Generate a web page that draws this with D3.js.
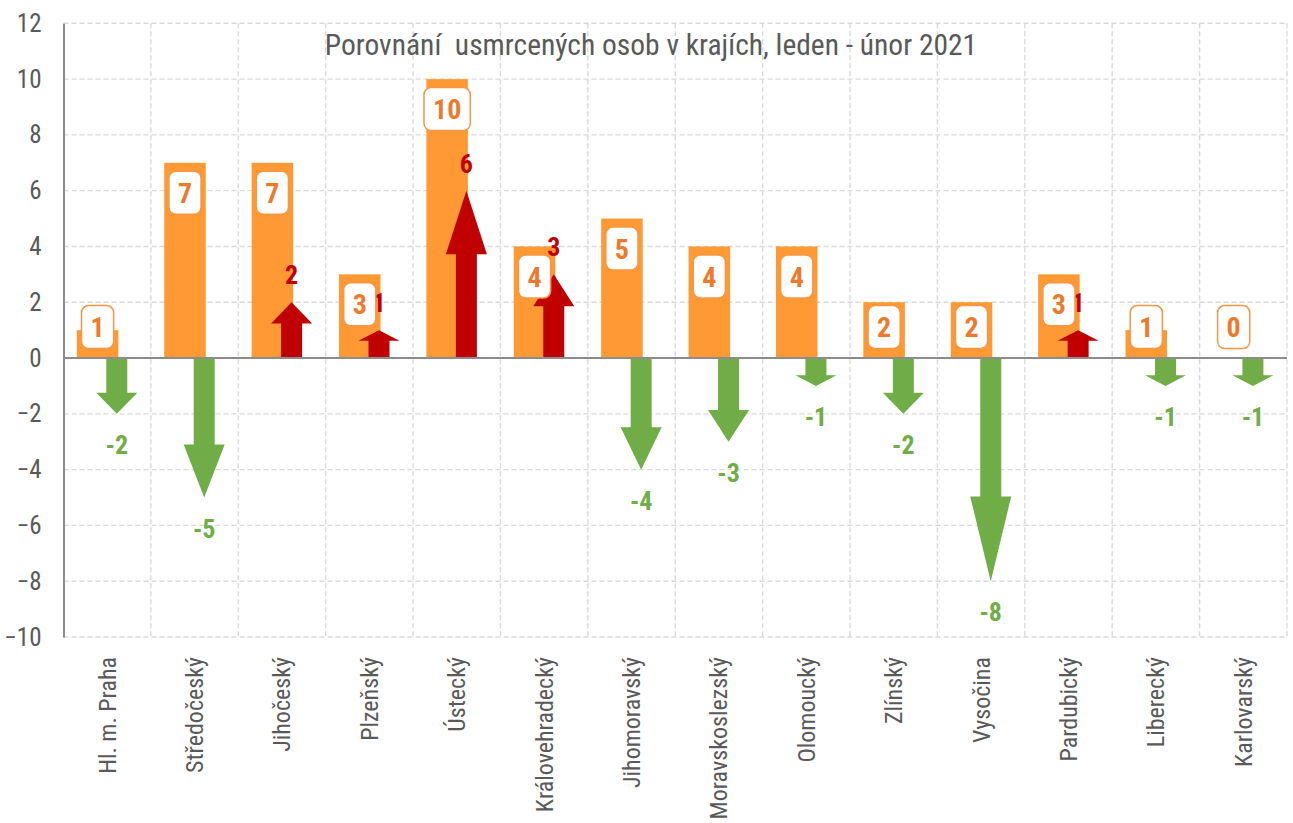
<!DOCTYPE html>
<html>
<head>
<meta charset="utf-8">
<script src="https://cdn.jsdelivr.net/npm/d3@7"></script>
<style>
  html, body { margin: 0; padding: 0; background: #fff; }
  svg { display: block; }
  .nf { font-family: "Liberation Sans Narrow", "Arial Narrow", "Roboto Condensed", "Liberation Sans", Arial, sans-serif; }
</style>
</head>
<body>
<svg id="chart" width="1293" height="823"></svg>
<script>
const categories = ["Hl. m. Praha", "Středočeský", "Jihočeský", "Plzeňský", "Ústecký", "Královehradecký", "Jihomoravský", "Moravskoslezský", "Olomoucký", "Zlínský", "Vysočina", "Pardubický", "Liberecký", "Karlovarský"];
const deaths2021 = [1, 7, 7, 3, 10, 4, 5, 4, 4, 2, 2, 3, 1, 0];
const changeVsPrev = [-2, -5, 2, 1, 6, 3, -4, -3, -1, -2, -8, 1, -1, -1];
const yTicks = [-10, -8, -6, -4, -2, 0, 2, 4, 6, 8, 10, 12];
const title = "Porovnání  usmrcených osob v krajích, leden - únor 2021";

const W = 1293, H = 823;
const margin = { left: 63.5, right: 6, top: 23.3, bottom: 186 };
const svg = d3.select("#chart");

const x = d3.scaleBand().domain(categories).range([margin.left, W - margin.right]).padding(0);
const y = d3.scaleLinear().domain([-10, 12]).range([H - margin.bottom, margin.top]);
const sub = d3.scaleBand().domain(["deaths", "change"]).range([x.bandwidth() * 0.28, x.bandwidth() * 0.72]);

const gridColor = "#D9D9D9";
const axisColor = "#8C8C8C";
const orange = "#FF9933";
const orangeText = "#EC7A2C";
const green = "#70AD47";
const red = "#C00000";
const textGray = "#595959";

// Grid: horizontal
const gGrid = svg.append("g");
gGrid.selectAll("line.h").data(yTicks).join("line")
  .attr("x1", margin.left).attr("x2", W - margin.right)
  .attr("y1", d => y(d)).attr("y2", d => y(d))
  .attr("stroke", gridColor).attr("stroke-width", 1.4).attr("stroke-dasharray", "5,3");
// Grid: vertical at band boundaries
const bounds = categories.map(c => x(c) + x.bandwidth());
gGrid.selectAll("line.v").data(bounds).join("line")
  .attr("x1", d => d).attr("x2", d => d)
  .attr("y1", y(12)).attr("y2", y(-10))
  .attr("stroke", gridColor).attr("stroke-width", 1.4).attr("stroke-dasharray", "5,3");

// Title
svg.append("text").attr("class", "nf")
  .attr("x", 651).attr("y", 55)
  .attr("text-anchor", "middle")
  .attr("font-size", 29.5).attr("fill", textGray)
  .attr("xml:space", "preserve")
  .style("white-space", "pre")
  .text(title);

// Y axis
const yAxis = d3.axisLeft(y).tickValues(yTicks).tickSize(0).tickPadding(22).tickFormat(d3.format("d"));
const gy = svg.append("g").attr("transform", `translate(${margin.left},0)`).call(yAxis);
gy.select(".domain").attr("stroke", axisColor).attr("stroke-width", 2);
gy.selectAll("text").attr("class", "nf").attr("font-size", 25).attr("fill", textGray).attr("font-family", null);

// X axis labels (rotated)
const xAxis = d3.axisBottom(x).tickSize(0).tickPadding(0);
const gx = svg.append("g").attr("transform", `translate(0,${y(-10) + 20})`).call(xAxis);
gx.select(".domain").remove();
gx.selectAll("text")
  .attr("class", "nf").attr("font-family", null)
  .attr("font-size", 24).attr("fill", textGray)
  .attr("transform", "rotate(-90)")
  .attr("text-anchor", "end").attr("dy", "0.35em").attr("x", 0).attr("y", 0);

// Bars
const barW = sub.bandwidth() * 2.16;
const barCx = d => x(d) + sub("deaths") + sub.bandwidth() / 2;
svg.append("g").selectAll("rect").data(categories).join("rect")
  .attr("x", (d) => barCx(d) - barW / 2)
  .attr("width", barW)
  .attr("y", (d, i) => y(Math.max(0, deaths2021[i])))
  .attr("height", (d, i) => Math.abs(y(deaths2021[i]) - y(0)))
  .attr("fill", orange);

// Arrows
const arrowCx = d => x(d) + sub("change") + sub.bandwidth() / 2;
const shaftW = 21, headW = 41, headFrac = 0.38;
function arrowPath(d, i) {
  const v = changeVsPrev[i];
  const cx = arrowCx(d);
  const y0 = y(0), y1 = y(v);
  const len = y1 - y0;
  const hb = y1 - len * headFrac;
  return `M${cx - shaftW / 2},${y0} L${cx - shaftW / 2},${hb} L${cx - headW / 2},${hb} L${cx},${y1} L${cx + headW / 2},${hb} L${cx + shaftW / 2},${hb} L${cx + shaftW / 2},${y0} Z`;
}
svg.append("g").selectAll("path").data(categories).join("path")
  .attr("d", arrowPath)
  .attr("fill", (d, i) => changeVsPrev[i] < 0 ? green : red);

// Zero line
svg.append("line")
  .attr("x1", margin.left).attr("x2", W - margin.right)
  .attr("y1", y(0)).attr("y2", y(0))
  .attr("stroke", axisColor).attr("stroke-width", 2);

// Arrow labels
svg.append("g").selectAll("text").data(categories).join("text")
  .attr("class", "nf")
  .attr("x", d => arrowCx(d))
  .attr("y", (d, i) => changeVsPrev[i] < 0 ? y(changeVsPrev[i]) + 31 : y(changeVsPrev[i]) - 27)
  .attr("dy", "0.35em")
  .attr("text-anchor", "middle")
  .attr("font-size", 26).attr("font-weight", "bold")
  .attr("fill", (d, i) => changeVsPrev[i] < 0 ? green : red)
  .text((d, i) => String(changeVsPrev[i]));

// Bar labels in boxes
const gLab = svg.append("g");
categories.forEach((c, i) => {
  const v = deaths2021[i];
  const cy = Math.min(y(v) + 30, y(0) - 31);
  const g = gLab.append("g");
  const rect = g.append("rect");
  const t = g.append("text").attr("class", "nf")
    .attr("x", barCx(c)).attr("y", cy).attr("dy", "0.36em")
    .attr("text-anchor", "middle")
    .attr("font-size", 28).attr("font-weight", "bold")
    .attr("fill", orangeText).text(String(v));
  const tw = t.node().getComputedTextLength();
  const bw = tw + 18, bh = 43;
  rect.attr("x", barCx(c) - bw / 2).attr("y", cy - bh / 2)
    .attr("width", bw).attr("height", bh).attr("rx", 7)
    .attr("fill", "#fff").attr("stroke", "#F79646").attr("stroke-width", 1.5);
});
</script>
</body>
</html>
